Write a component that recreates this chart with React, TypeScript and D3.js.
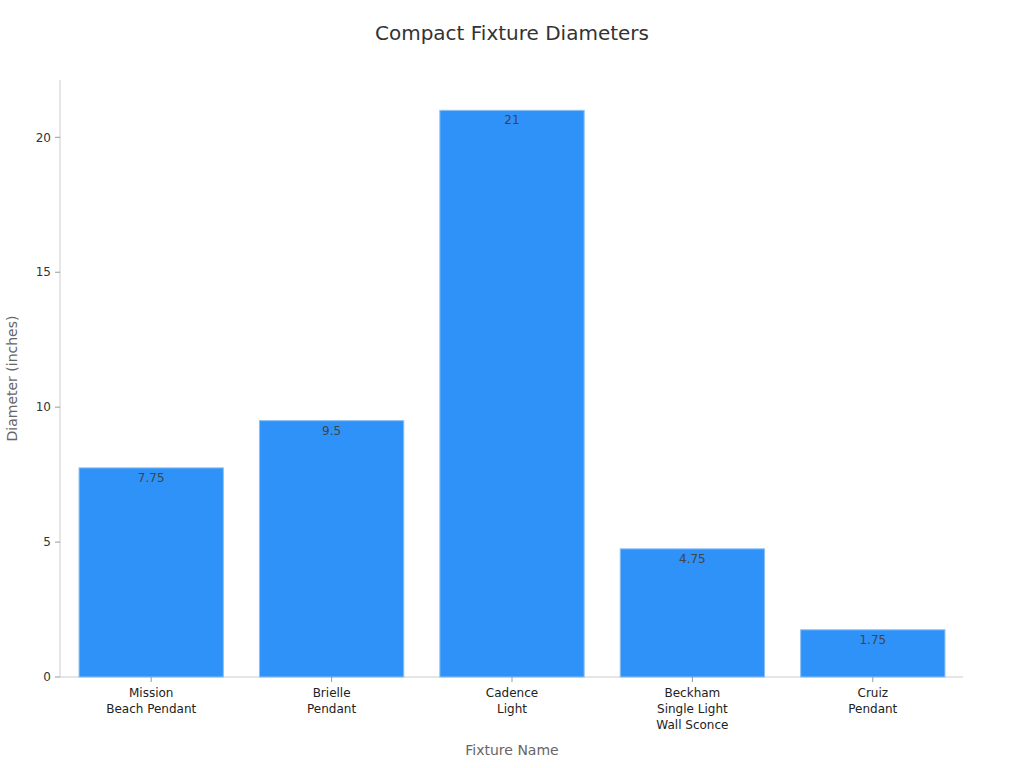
import React from "react";
import * as d3 from "d3";

const categories: string[][] = [
  ["Mission", "Beach Pendant"],
  ["Brielle", "Pendant"],
  ["Cadence", "Light"],
  ["Beckham", "Single Light", "Wall Sconce"],
  ["Cruiz", "Pendant"],
];
const values: number[] = [7.75, 9.5, 21, 4.75, 1.75];
const valueLabels: string[] = ["7.75", "9.5", "21", "4.75", "1.75"];
const yTicks: number[] = [0, 5, 10, 15, 20];

const W = 1024;
const H = 768;
const left = 60;
const right = 963;
const top = 80;
const bottom = 677;
const font = "DejaVu Sans, Verdana, sans-serif";

export default function App() {
  const x = d3
    .scaleBand<number>()
    .domain(values.map((_, i) => i))
    .range([left + 1, right])
    .paddingInner(0.2)
    .paddingOuter(0.1);
  const y = d3.scaleLinear().domain([0, 21 * 1.05]).range([bottom, top + 2]);

  return (
    <svg width={W} height={H} style={{ position: "absolute", left: 0, top: 0, background: "#fff" }} fontFamily={font}>
      <text x={512} y={40} textAnchor="middle" fontSize={20} fill="#333">
        Compact Fixture Diameters
      </text>
      {/* axes */}
      <line x1={left} x2={left} y1={top} y2={bottom} stroke="#ccc" />
      <line x1={left} x2={right} y1={bottom} y2={bottom} stroke="#ccc" />
      {yTicks.map((t) => (
        <g key={t}>
          <line x1={left - 5} x2={left} y1={y(t)} y2={y(t)} stroke="#999" />
          <text x={left - 9} y={y(t)} dy="0.35em" textAnchor="end" fontSize={12} fill="#333">
            {t}
          </text>
        </g>
      ))}
      {values.map((v, i) => {
        const bx = x(i)!;
        const bw = x.bandwidth();
        const cx = bx + bw / 2;
        return (
          <g key={i}>
            <rect x={bx} y={y(v)} width={bw} height={bottom - y(v)} fill="#2f92f9" stroke="#8cc0f5" strokeWidth={1} />
            <text x={cx} y={y(v) + 14} textAnchor="middle" fontSize={12} fill="#444">
              {valueLabels[i]}
            </text>
            <line x1={cx} x2={cx} y1={bottom} y2={bottom + 5} stroke="#999" />
            {categories[i].map((line, j) => (
              <text key={j} x={cx} y={bottom + 20 + j * 16} textAnchor="middle" fontSize={12} fill="#222">
                {line}
              </text>
            ))}
          </g>
        );
      })}
      <text x={512} y={755} textAnchor="middle" fontSize={14} fill="#666">
        Fixture Name
      </text>
      <text transform={`translate(17,${(top + bottom) / 2}) rotate(-90)`} textAnchor="middle" fontSize={14} fill="#666">
        Diameter (inches)
      </text>
    </svg>
  );
}
